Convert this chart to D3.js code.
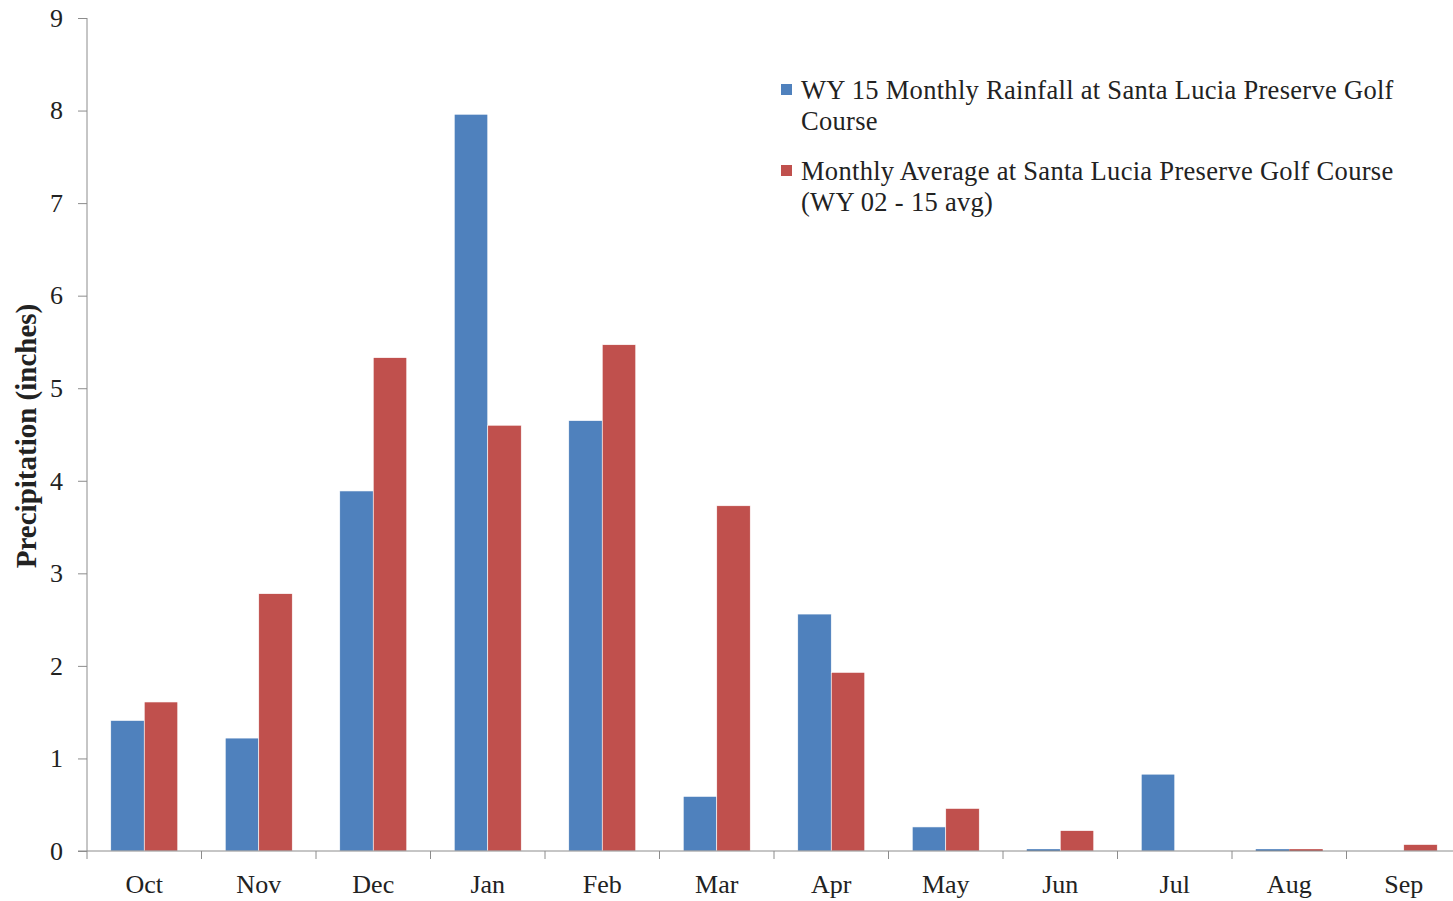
<!DOCTYPE html>
<html>
<head>
<meta charset="utf-8">
<script src="https://cdn.jsdelivr.net/npm/d3@7/dist/d3.min.js"></script>
<style>
  body { margin: 0; background: #fff; }
  text { font-family: "Liberation Serif", "DejaVu Serif", serif; fill: #222; }
</style>
</head>
<body>
<script>
var months = ["Oct", "Nov", "Dec", "Jan", "Feb", "Mar", "Apr", "May", "Jun", "Jul", "Aug", "Sep"];
var wy15 = [1.41, 1.22, 3.89, 7.96, 4.65, 0.59, 2.56, 0.26, 0.02, 0.83, 0.02, 0];
var avg0215 = [1.61, 2.78, 5.33, 4.60, 5.47, 3.73, 1.93, 0.46, 0.22, 0, 0.02, 0.07];
var legendLines = [["WY 15 Monthly Rainfall at Santa Lucia Preserve Golf", "Course"],
                   ["Monthly Average at Santa Lucia Preserve Golf Course", "(WY 02 - 15 avg)"]];
var yTicks = [0, 1, 2, 3, 4, 5, 6, 7, 8, 9];

var w = 1453, h = 901;
var colors = ["#4F81BD", "#C0504D"];
var axisColor = "#8c8c8c";

// plot area (right edge runs past the window, as in the original)
var plotLeft = 87, plotRight = 1461, plotTop = 18, plotBottom = 851;

var svg = d3.select("body")
    .append("svg")
    .attr("width", w)
    .attr("height", h);

var x0 = d3.scaleBand()
    .domain(months)
    .range([plotLeft, plotRight])
    .paddingInner(0.415)
    .paddingOuter(0.2075);

var x1 = d3.scaleBand()
    .domain([0, 1])
    .range([0, x0.bandwidth()]);

var y = d3.scaleLinear()
    .domain([0, 9])
    .range([plotBottom, plotTop]);

var data = months.map(function(m, i) {
    return { month: m, values: [wy15[i], avg0215[i]] };
});

// bars
var groups = svg.selectAll("g.month")
    .data(data)
    .enter()
    .append("g")
    .attr("class", "month")
    .attr("transform", function(d) { return "translate(" + x0(d.month) + ",0)"; });

groups.selectAll("rect")
    .data(function(d) { return d.values.map(function(v, k) { return { k: k, v: v }; }); })
    .enter()
    .append("rect")
    .attr("x", function(d) { return x1(d.k); })
    .attr("width", x1.bandwidth())
    .attr("y", function(d) { return y(d.v); })
    .attr("height", function(d) { return plotBottom - y(d.v); })
    .attr("fill", function(d) { return colors[d.k]; })
    .attr("stroke", function(d) { return d.v > 0.05 ? "#fff" : "none"; })
    .attr("stroke-width", 0.6);

// y axis
var yAxis = d3.axisLeft(y)
    .tickValues(yTicks)
    .tickSize(9)
    .tickPadding(15);

var gy = svg.append("g")
    .attr("transform", "translate(" + plotLeft + ",0)")
    .call(yAxis);
gy.select(".domain").attr("stroke", axisColor).attr("d", "M0," + plotTop + "V" + plotBottom);
gy.selectAll(".tick line").attr("stroke", axisColor);
gy.selectAll(".tick text")
    .style("font-size", "26px")
    .style("font-family", "'Liberation Serif', serif")
    .attr("fill", "#222");

// x axis
var xAxis = d3.axisBottom(x0)
    .tickSize(0)
    .tickPadding(24);

var gx = svg.append("g")
    .attr("transform", "translate(0," + plotBottom + ")")
    .call(xAxis);
gx.select(".domain").attr("stroke", axisColor).attr("d", "M" + (plotLeft - 9) + ",0H" + plotRight);
gx.selectAll(".tick text")
    .style("font-size", "26px")
    .style("font-family", "'Liberation Serif', serif")
    .attr("fill", "#222");

// category boundary ticks
var bounds = months.map(function(m) { return x0(m) - x0.step() * x0.paddingOuter(); });
bounds.push(plotRight);
gx.selectAll("line.bound")
    .data(bounds)
    .enter()
    .append("line")
    .attr("class", "bound")
    .attr("x1", function(d) { return d; })
    .attr("x2", function(d) { return d; })
    .attr("y1", 0)
    .attr("y2", 8)
    .attr("stroke", axisColor);

// y axis title
svg.append("text")
    .attr("transform", "translate(36," + 436 + ") rotate(-90)")
    .attr("text-anchor", "middle")
    .style("font-size", "29px")
    .style("font-weight", "bold")
    .text("Precipitation (inches)");

// legend
var legend = svg.append("g")
    .attr("transform", "translate(781,84)");

var entries = legend.selectAll("g")
    .data(legendLines)
    .enter()
    .append("g")
    .attr("transform", function(d, i) { return "translate(0," + (i * 81) + ")"; });

entries.append("rect")
    .attr("width", 11)
    .attr("height", 11)
    .attr("fill", function(d, i) { return colors[i]; });

entries.append("text")
    .attr("x", 20)
    .attr("y", 15)
    .style("font-size", "26.5px")
    .style("letter-spacing", "0.3px")
    .selectAll("tspan")
    .data(function(d) { return d; })
    .enter()
    .append("tspan")
    .attr("x", 20)
    .attr("dy", function(d, i) { return i === 0 ? 0 : 31; })
    .text(function(d) { return d; });
</script>
</body>
</html>
